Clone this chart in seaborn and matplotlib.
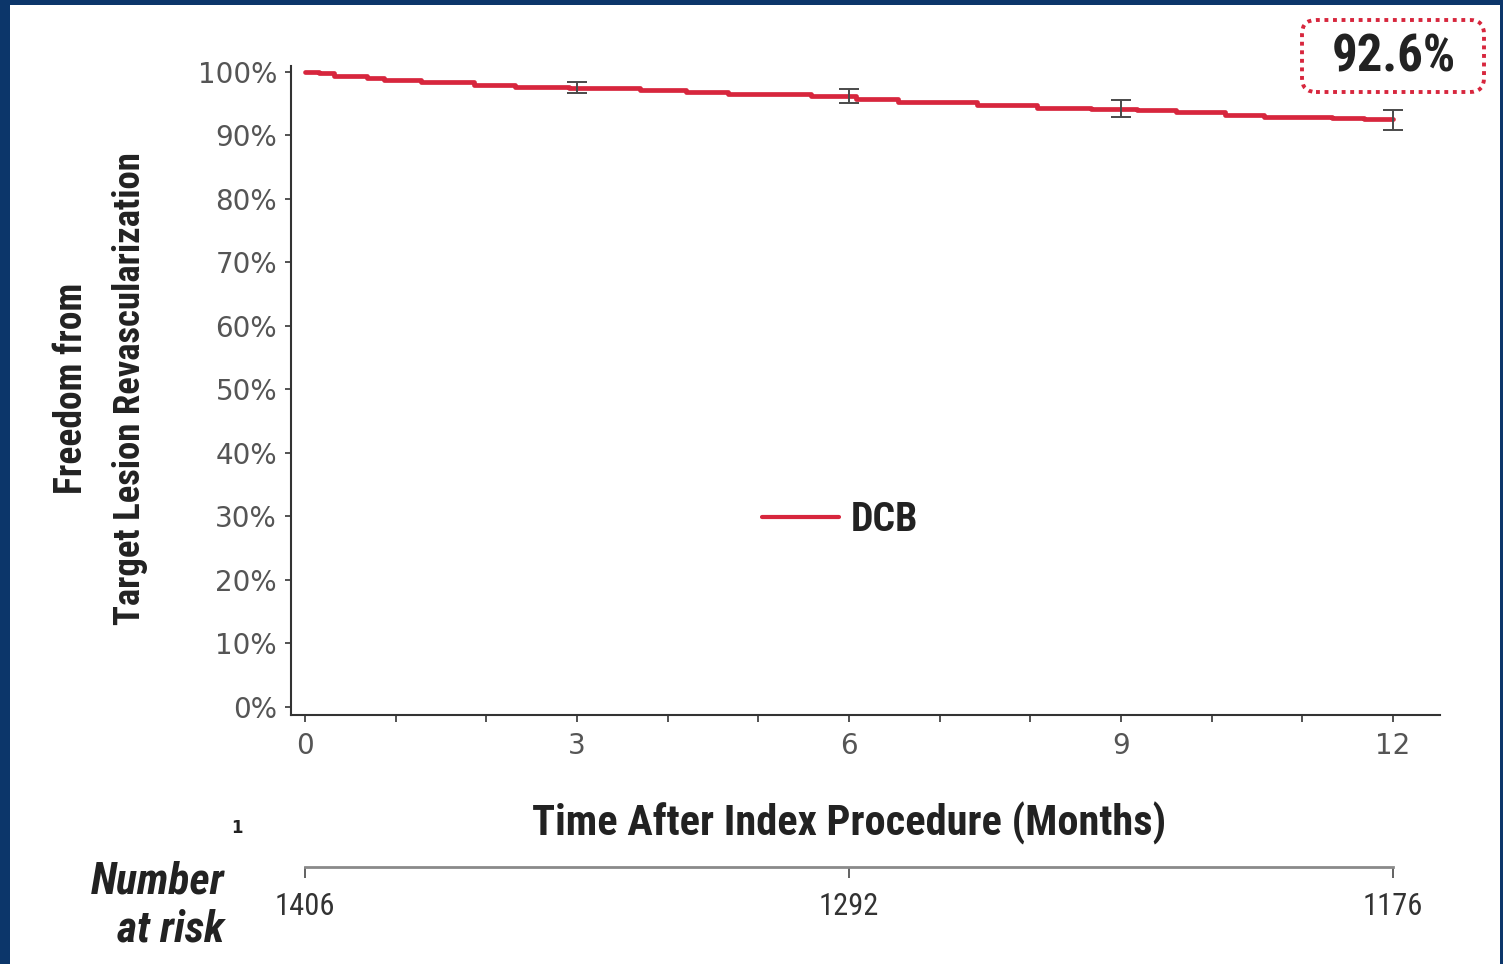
import matplotlib
matplotlib.use("Agg")
import matplotlib.pyplot as plt
import seaborn as sns
import pandas as pd
from matplotlib.patches import FancyBboxPatch, Rectangle
from matplotlib.font_manager import FontProperties, fontManager
from matplotlib.lines import Line2D
import matplotlib.transforms as mtransforms

# ---------------- data ----------------
months = [0, 0.15, 0.32, 0.68, 0.87, 1.28, 1.64, 1.87, 2.32, 2.91, 3.70, 4.20,
          4.67, 5.58, 6.08, 6.54, 7.03, 7.41, 8.08, 8.67, 9.18, 9.61, 10.15,
          10.58, 11.33, 11.68, 12.0]
freedom_pct = [100, 99.8, 99.4, 99.1, 98.7, 98.5, 98.4, 98.0, 97.7, 97.5, 97.1,
               96.9, 96.5, 96.2, 95.8, 95.3, 95.2, 94.8, 94.4, 94.2, 93.95,
               93.65, 93.2, 92.9, 92.75, 92.6, 92.6]
ci_months = [3, 6, 9, 12]
ci_mid = [97.5, 96.2, 94.2, 92.6]
ci_low = [96.7, 95.1, 92.9, 90.9]
ci_high = [98.4, 97.3, 95.6, 94.0]
risk_months = [0, 6, 12]
at_risk = [1406, 1292, 1176]
x_ticks = [0, 3, 6, 9, 12]
x_minor_ticks = list(range(0, 13))
y_ticks = list(range(0, 101, 10))
y_tick_labels = [f"{v}%" for v in y_ticks]
series_name = "DCB"
final_label = "92.6%"
x_title = "Time After Index Procedure (Months)"
y_title_1 = "Freedom from"
y_title_2 = "Target Lesion Revascularization"
risk_title_1 = "Number"
risk_title_2 = "at risk"

# ---------------- style ----------------
sns.set_theme(style="white")
plt.rcParams["font.family"] = ["DejaVu Sans"]

names = {f.name for f in fontManager.ttflist}
NARROW = "DejaVu Sans"
for cand in ["Roboto Condensed", "DejaVu Sans Condensed", "Liberation Sans Narrow",
             "Roboto"]:
    if cand in names:
        NARROW = cand
        break
K = 1.0 if ("Condensed" in NARROW or "Narrow" in NARROW) else 0.82

RED = "#d7263d"
NAVY = "#0c366a"

W, H = 1503, 964
fig = plt.figure(figsize=(W / 100, H / 100), dpi=100, facecolor=NAVY)
fig.patches.append(Rectangle((10 / W, 0), (1500 - 10) / W, (964 - 5) / H,
                             transform=fig.transFigure, facecolor="white",
                             edgecolor="none", zorder=-5))

ax = fig.add_axes([291 / W, 1 - 715 / H, (1440 - 291) / W, (715 - 65.65) / H])
ax.patch.set_alpha(0)

df = pd.DataFrame({"month": months, "pct": freedom_pct})
sns.lineplot(data=df, x="month", y="pct", drawstyle="steps-post", color=RED,
             lw=3.4, ax=ax, errorbar=None, legend=False, zorder=2)

err_lo = [m - l for m, l in zip(ci_mid, ci_low)]
err_hi = [h - m for m, h in zip(ci_mid, ci_high)]
ax.errorbar(ci_months, ci_mid, yerr=[err_lo, err_hi], fmt="none",
            ecolor="#4a4a4a", elinewidth=1.4, capsize=7.5, capthick=1.4, zorder=3)

ax.set_xlim(-0.154, 12.52)
ax.set_ylim(-1.26, 101.0)
ax.set_xticks(x_ticks)
ax.set_xticks(x_minor_ticks, minor=True)
ax.set_yticks(y_ticks)
ax.set_yticklabels(y_tick_labels)
ax.set_xlabel("")
ax.set_ylabel("")
for s in ["top", "right"]:
    ax.spines[s].set_visible(False)
for s in ["left", "bottom"]:
    ax.spines[s].set_color("#333333")
    ax.spines[s].set_linewidth(1.5)
ax.tick_params(axis="x", which="both", direction="out", length=5, width=1.3,
               color="#444444", bottom=True, pad=7, labelsize=20,
               labelcolor="#555555")
ax.tick_params(axis="y", which="major", direction="out", length=4, width=1.3,
               color="#444444", left=True, pad=6, labelsize=20,
               labelcolor="#555555")

# legend
handle = Line2D([0], [0], color=RED, lw=3)
leg = ax.legend([handle], [series_name], loc="center",
                bbox_to_anchor=(0.478, 0.300), frameon=False,
                prop=FontProperties(family=NARROW, weight="bold", size=28.5 * K),
                handlelength=1.95 / K, handletextpad=0.3 / K)
for t in leg.get_texts():
    t.set_color("#222222")

# axis titles
trans_x = mtransforms.blended_transform_factory(ax.transData, ax.transAxes)
ax.text(6, (715 - 823) / 649.35, x_title, transform=trans_x, ha="center",
        va="center", fontsize=30.5 * K, fontweight="bold", family=NARROW,
        color="#222222")
ax.text((72 - 291) / 1149, (715 - 388) / 649.35, y_title_1,
        transform=ax.transAxes, rotation=90, ha="center", va="center",
        fontsize=27 * K, fontweight="bold", family=NARROW, color="#222222")
ax.text((130 - 291) / 1149, (715 - 389) / 649.35, y_title_2,
        transform=ax.transAxes, rotation=90, ha="center", va="center",
        fontsize=26.5 * K, fontweight="bold", family=NARROW, color="#222222")

# final value callout
box = FancyBboxPatch((1302 / 100, (964 - 92) / 100), 1.82, 0.72,
                     boxstyle="round,pad=0,rounding_size=0.14",
                     transform=fig.dpi_scale_trans, facecolor="white",
                     edgecolor=RED, lw=2.8, ls=(0, (1, 1.2)), zorder=4)
fig.patches.append(box)
fig.text(1394 / W, 1 - 57 / H, final_label, ha="center", va="center",
         fontsize=36.5 * K, fontweight="bold", family=NARROW, color="#222222",
         zorder=5)

# number at risk axis
ax2 = fig.add_axes([291 / W, 1 - 867 / H, (1440 - 291) / W, 0.0005])
ax2.patch.set_alpha(0)
ax2.set_xlim(ax.get_xlim())
ax2.set_yticks([])
for s in ["top", "right", "left"]:
    ax2.spines[s].set_visible(False)
ax2.spines["bottom"].set_color("#8a8a8a")
ax2.spines["bottom"].set_linewidth(2)
ax2.spines["bottom"].set_bounds(risk_months[0], risk_months[-1])
ax2.set_xticks(risk_months)
ax2.set_xticklabels([str(v) for v in at_risk], family=NARROW, fontsize=22,
                    color="#333333")
ax2.tick_params(axis="x", direction="out", length=8, width=1.3,
                color="#555555", bottom=True, pad=10)

fig.text(225 / W, 1 - 882 / H, risk_title_1, ha="right", va="center",
         fontsize=31.5 * K, fontweight="bold", style="italic", family=NARROW,
         color="#222222")
fig.text(225 / W, 1 - 930 / H, risk_title_2, ha="right", va="center",
         fontsize=31.5 * K, fontweight="bold", style="italic", family=NARROW,
         color="#222222")
fig.text(237 / W, 1 - 828 / H, "1", ha="center", va="center", fontsize=12,
         fontweight="bold", color="#222222")

fig.savefig("out.png", dpi=100, facecolor=fig.get_facecolor())
